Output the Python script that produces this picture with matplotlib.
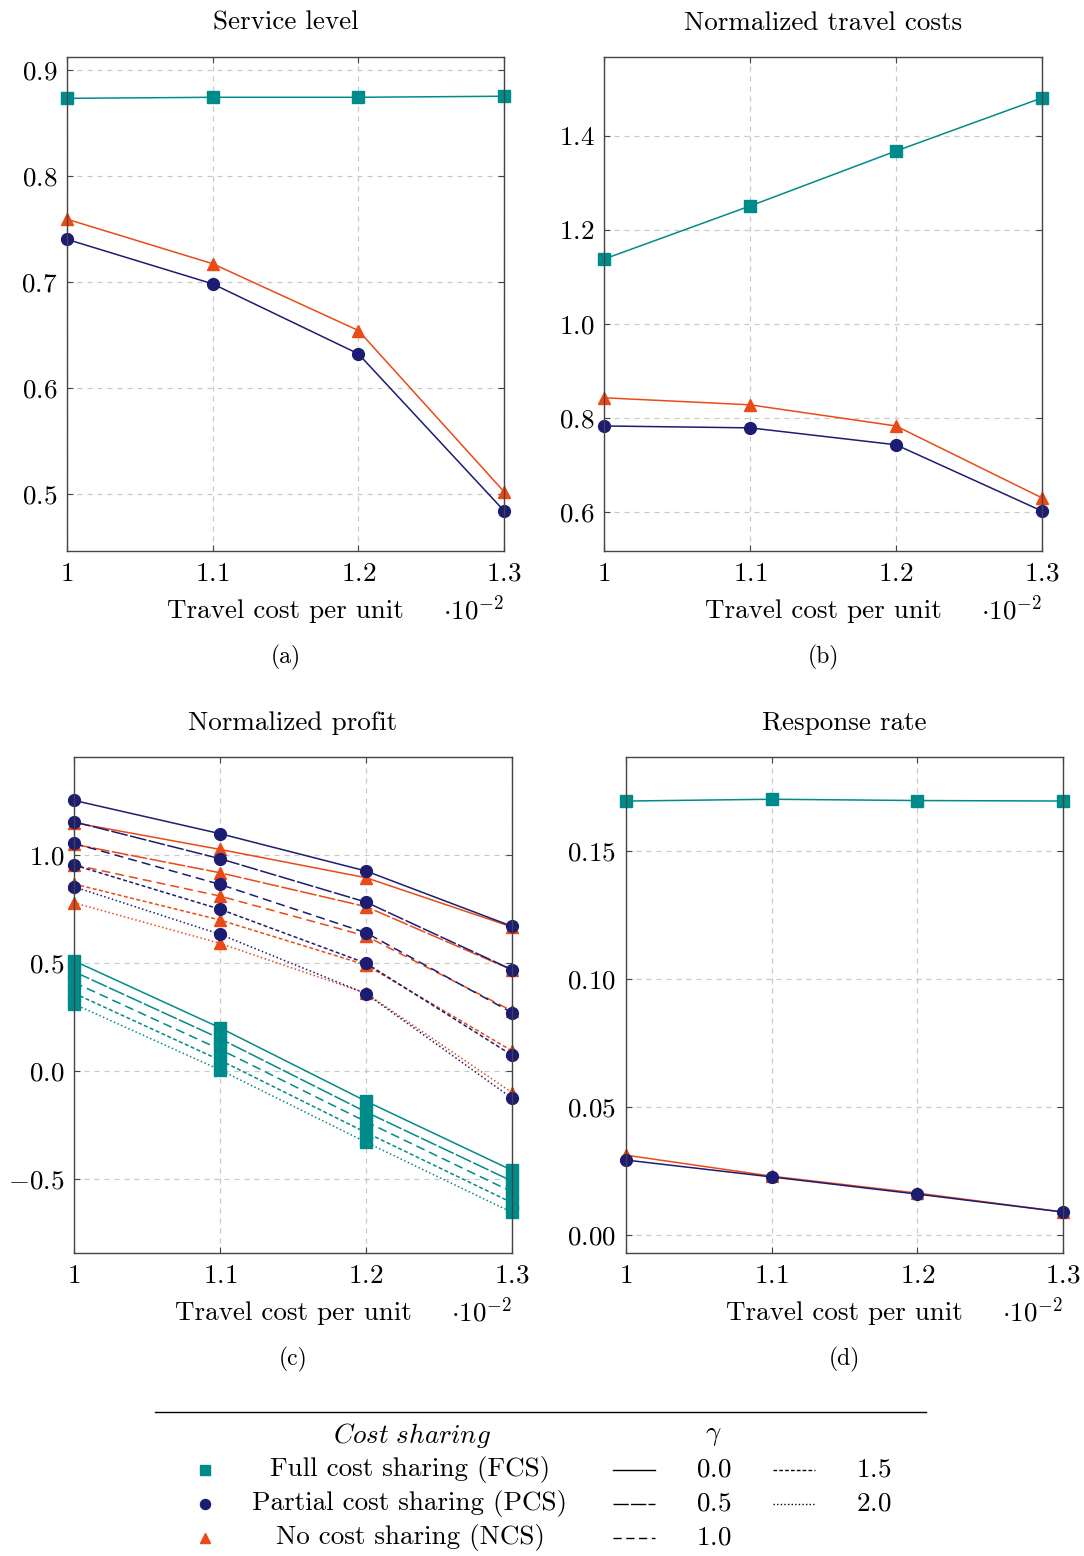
import numpy as np
import matplotlib
matplotlib.use('Agg')
import matplotlib.pyplot as plt

FS = 19.5

plt.rcParams.update({
    'font.family': 'serif',
    'font.serif': ['cmr10'],
    'mathtext.fontset': 'cm',
    'axes.formatter.use_mathtext': True,
    'font.size': FS,
})

TEAL = '#008b8b'
NAVY = '#1c1c72'
ORANGE = '#eb4a16'
GRID = '#c8c8c8'
SPINE = '#444444'

# travel cost per unit (x 10^-2)
cost = [1.0, 1.1, 1.2, 1.3]

# (a) service level
service_fcs = [0.873, 0.874, 0.874, 0.875]
service_pcs = [0.740, 0.698, 0.632, 0.484]
service_ncs = [0.759, 0.717, 0.654, 0.502]

# (b) normalized travel costs
travel_fcs = [1.138, 1.251, 1.368, 1.481]
travel_pcs = [0.783, 0.779, 0.743, 0.602]
travel_ncs = [0.843, 0.828, 0.783, 0.630]

# (c) normalized profit, one row per gamma
gammas = [0.0, 0.5, 1.0, 1.5, 2.0]
profit_fcs = [
    [0.510, 0.200, -0.140, -0.460],
    [0.460, 0.150, -0.190, -0.510],
    [0.410, 0.100, -0.235, -0.560],
    [0.360, 0.050, -0.285, -0.610],
    [0.310, 0.005, -0.330, -0.655],
]
profit_pcs = [
    [1.253, 1.099, 0.926, 0.670],
    [1.154, 0.983, 0.782, 0.469],
    [1.054, 0.864, 0.640, 0.270],
    [0.954, 0.749, 0.499, 0.073],
    [0.853, 0.633, 0.358, -0.126],
]
profit_ncs = [
    [1.150, 1.026, 0.895, 0.667],
    [1.050, 0.918, 0.761, 0.468],
    [0.955, 0.810, 0.625, 0.278],
    [0.866, 0.699, 0.491, 0.093],
    [0.779, 0.591, 0.360, -0.100],
]

# (d) response rate
response_fcs = [0.1695, 0.1702, 0.1697, 0.1695]
response_pcs = [0.0293, 0.0227, 0.0160, 0.0090]
response_ncs = [0.0312, 0.0230, 0.0164, 0.0090]

# line style per gamma
dash_styles = ['-', (0, (11.0, 1.6)), (0, (5.9, 3.3)), (0, (2.6, 1.6)), (0, (1.0, 1.6))]

LW = 1.1
MK = dict(s=dict(marker='s', ms=8.0, color=TEAL),
          o=dict(marker='o', ms=8.5, color=NAVY),
          t=dict(marker='^', ms=8.0, color=ORANGE))

W, H = 1084, 1556
fig = plt.figure(figsize=(W / 100, H / 100), dpi=100)


def px_axes(left, top, right, bottom):
    return fig.add_axes([left / W, 1 - bottom / H, (right - left) / W, (bottom - top) / H])


def style(ax, ylim, yticks, ylabels, title, tag):
    ax.set_xlim(1.0, 1.3)
    ax.set_ylim(*ylim)
    ax.set_xticks(cost)
    ax.set_xticklabels(['$1$', '$1.1$', '$1.2$', '$1.3$'])
    ax.set_yticks(yticks)
    ax.set_yticklabels(ylabels)
    ax.grid(True, color=GRID, linestyle=(0, (4, 4)), linewidth=0.9)
    ax.set_axisbelow(True)
    for s in ax.spines.values():
        s.set_color(SPINE)
        s.set_linewidth(1.0)
    ax.tick_params(direction='in', length=4, width=0.8, color=SPINE,
                   top=True, right=True, labelsize=FS)
    ax.tick_params(axis='x', pad=8)
    ax.tick_params(axis='y', pad=7)
    ax.text(0.5, 1.069, title, transform=ax.transAxes,
            ha='center', va='center', fontsize=FS)
    ax.text(0.5, -0.121, 'Travel cost per unit', transform=ax.transAxes,
            ha='center', va='center', fontsize=FS)
    ax.text(1.0, -0.117, r'$\cdot 10^{-2}$', transform=ax.transAxes,
            ha='right', va='center', fontsize=FS)
    ax.text(0.5, -0.215, tag, transform=ax.transAxes,
            ha='center', va='center', fontsize=17)


def trio(ax, fcs, pcs, ncs):
    ax.plot(cost, fcs, lw=LW, **MK['s'])
    ax.plot(cost, ncs, lw=LW, **MK['t'])
    ax.plot(cost, pcs, lw=LW, **MK['o'])


# (a)
ax = px_axes(67, 57, 504, 551)
trio(ax, service_fcs, service_pcs, service_ncs)
style(ax, (0.446, 0.912), [0.5, 0.6, 0.7, 0.8, 0.9],
      ['$0.5$', '$0.6$', '$0.7$', '$0.8$', '$0.9$'], 'Service level', '(a)')

# (b)
ax = px_axes(604, 57, 1042, 551)
trio(ax, travel_fcs, travel_pcs, travel_ncs)
style(ax, (0.517, 1.568), [0.6, 0.8, 1.0, 1.2, 1.4],
      ['$0.6$', '$0.8$', '$1.0$', '$1.2$', '$1.4$'], 'Normalized travel costs', '(b)')

# (c)
ax = px_axes(74, 757, 512, 1253)
for g, ls in enumerate(dash_styles):
    ax.plot(cost, profit_fcs[g], lw=LW, ls=ls, **MK['s'])
for g, ls in enumerate(dash_styles):
    ax.plot(cost, profit_ncs[g], lw=LW, ls=ls, **MK['t'])
    ax.plot(cost, profit_pcs[g], lw=LW, ls=ls, **MK['o'])
style(ax, (-0.843, 1.454), [-0.5, 0.0, 0.5, 1.0],
      ['$-0.5$', '$0.0$', '$0.5$', '$1.0$'], 'Normalized profit', '(c)')

# (d)
ax = px_axes(626, 757, 1063, 1253)
trio(ax, response_fcs, response_pcs, response_ncs)
style(ax, (-0.007, 0.1867), [0.0, 0.05, 0.10, 0.15],
      ['$0.00$', '$0.05$', '$0.10$', '$0.15$'], 'Response rate', '(d)')

for a in fig.axes:
    for ln in a.get_lines():
        ln.set_clip_on(False)

# shared legend, laid out in pixel units
lg = fig.add_axes([0, 0, 1, 166 / H])
lg.set_xlim(0, W)
lg.set_ylim(1556, 1390)
lg.axis('off')
lg.plot([155, 926], [1412, 1412], color='black', lw=1.0)
lg.text(412, 1436, r'$\mathit{Cost\ sharing}$', ha='center', va='center', fontsize=FS)
lg.text(713, 1436, r'$\gamma$', ha='center', va='center', fontsize=FS)

groups = [('s', 'Full cost sharing (FCS)'),
          ('o', 'Partial cost sharing (PCS)'),
          ('t', 'No cost sharing (NCS)')]
rows = [1470, 1504, 1538]
for (key, label), y in zip(groups, rows):
    st = dict(MK[key])
    st['ms'] = st['ms'] * 0.85
    lg.plot([205], [y], ls='none', **st)
    lg.text(410, y, label, ha='center', va='center', fontsize=FS)

gamma_slots = [(613, 1470), (613, 1504), (613, 1538), (773, 1470), (773, 1504)]
for g, ls, (x0, y) in zip(gammas, dash_styles, gamma_slots):
    lg.plot([x0, x0 + 42], [y, y], color='black', lw=1.0, ls=ls)
    lg.text(x0 + 101, y, f'${g:.1f}$', ha='center', va='center', fontsize=FS)

fig.savefig('out.png', dpi=100)
